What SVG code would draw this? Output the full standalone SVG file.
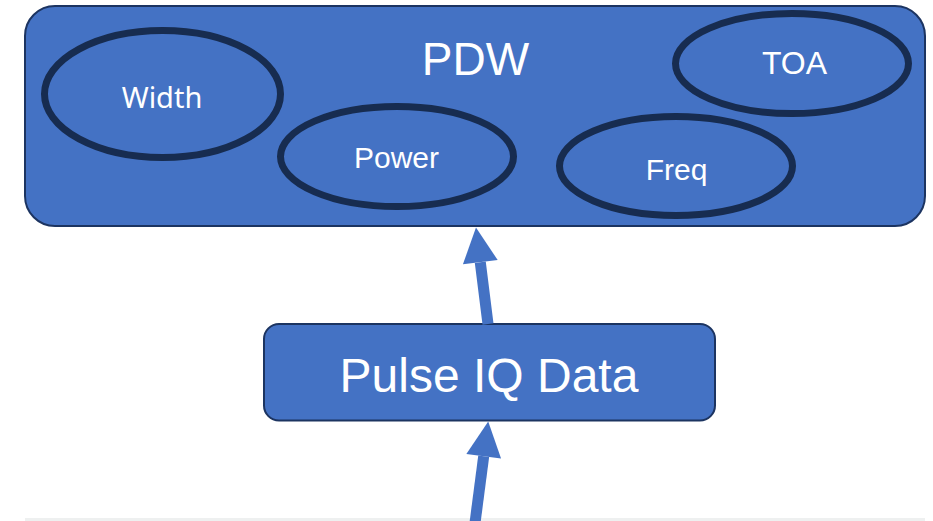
<svg xmlns="http://www.w3.org/2000/svg" width="933" height="521" viewBox="0 0 933 521">
  <style>
    .box { fill: #4472c4; stroke: #1c3461; stroke-width: 2; }
    .field { fill: #4472c4; stroke: #172c50; stroke-width: 7; }
    .lbl { fill: #ffffff; font-family: "Liberation Sans", Arial, sans-serif; text-anchor: middle; }
    .flow { stroke: #4472c4; stroke-width: 11; fill: none; marker-end: url(#head); }
  </style>
  <defs>
    <marker id="head" markerUnits="userSpaceOnUse" markerWidth="36" markerHeight="36" refX="0" refY="17.5" orient="auto" overflow="visible">
      <path d="M0,0 L35,17.5 L0,35 Z" fill="#4472c4"/>
    </marker>
  </defs>

  <rect x="0" y="0" width="933" height="521" fill="#ffffff"/>
  <!-- footer rule -->
  <rect x="25" y="518" width="900" height="3" fill="#eef0f0"/>

  <g id="pdw">
    <rect class="box" x="25" y="6" width="900" height="220" rx="30" ry="30"/>
    <text class="lbl" x="475.5" y="75" font-size="46">PDW</text>
  </g>
  <g id="width">
    <ellipse class="field" cx="162.5" cy="94" rx="118" ry="63.5"/>
    <text class="lbl" x="162" y="108" font-size="29" style="font-family:'Noto Sans','Liberation Sans',sans-serif">Width</text>
  </g>
  <g id="power">
    <ellipse class="field" cx="397" cy="156.5" rx="116.5" ry="50"/>
    <text class="lbl" x="396.5" y="168" font-size="30">Power</text>
  </g>
  <g id="freq">
    <ellipse class="field" cx="676" cy="166" rx="116.5" ry="49.5"/>
    <text class="lbl" x="676.5" y="180" font-size="30">Freq</text>
  </g>
  <g id="toa">
    <ellipse class="field" cx="792" cy="63.5" rx="116.5" ry="50"/>
    <text class="lbl" x="794.5" y="74" font-size="32">TOA</text>
  </g>
  <g id="pulse-iq">
    <rect class="box" x="264" y="324" width="451" height="96.5" rx="15" ry="15"/>
    <text class="lbl" x="489" y="391.5" font-size="48">Pulse IQ Data</text>
  </g>

  <g id="connectors">
    <line class="flow" x1="488" y1="324" x2="480.3" y2="262.2"/>
    <line class="flow" x1="475" y1="523" x2="483.7" y2="456.2"/>
  </g>
</svg>
